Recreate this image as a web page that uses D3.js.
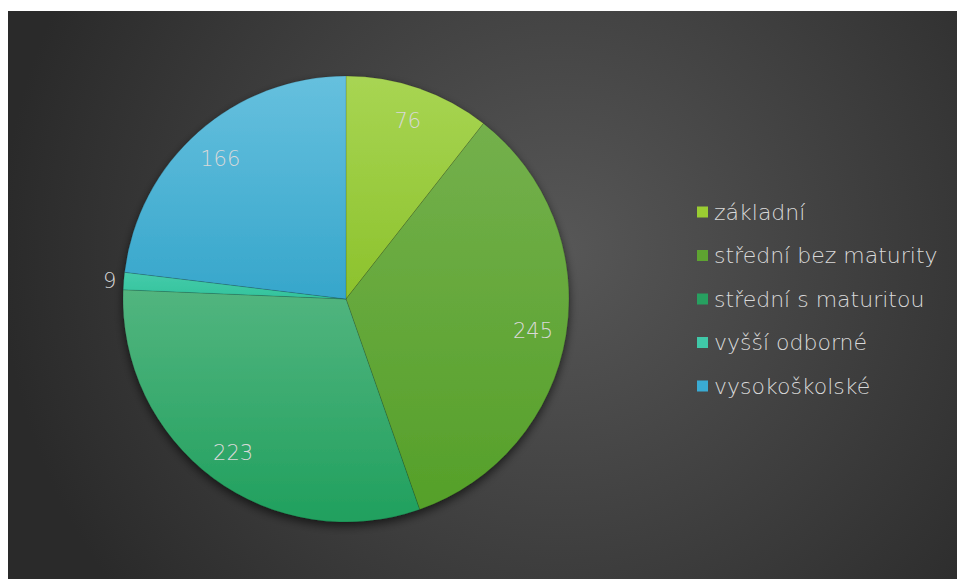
<!DOCTYPE html>
<html>
<head>
<meta charset="utf-8">
<script src="https://cdn.jsdelivr.net/npm/d3@7"></script>
<style>
  body { margin: 0; background: #fff; }
  text { font-family: "DejaVu Sans", sans-serif; fill: #d9d9d9; }
</style>
</head>
<body>
<svg width="958" height="579"></svg>
<script>
var categories = ["základní", "střední bez maturity", "střední s maturitou", "vyšší odborné", "vysokoškolské"];
var values = [76, 245, 223, 9, 166];
var topColors = ["#a8d553", "#74b04c", "#52b57f", "#45cbaa", "#66c0de"];
var bottomColors = ["#8cc22c", "#55a029", "#20a05e", "#33c39c", "#36a6cb"];
var legendColors = ["#9acd32", "#5ea331", "#27a060", "#40c8a8", "#3aabd3"];

var svg = d3.select("svg"),
    width = +svg.attr("width"),
    height = +svg.attr("height");

var defs = svg.append("defs");

var bg = defs.append("radialGradient")
    .attr("id", "bg")
    .attr("gradientUnits", "userSpaceOnUse")
    .attr("cx", 560).attr("cy", 250).attr("r", 560);
bg.append("stop").attr("offset", "0%").attr("stop-color", "#575757");
bg.append("stop").attr("offset", "100%").attr("stop-color", "#2a2a2a");

var shadow = defs.append("filter")
    .attr("id", "shadow")
    .attr("x", "-20%").attr("y", "-20%")
    .attr("width", "140%").attr("height", "140%");
shadow.append("feDropShadow")
    .attr("dx", 0).attr("dy", 4)
    .attr("stdDeviation", 5)
    .attr("flood-color", "#000")
    .attr("flood-opacity", 0.6);

categories.forEach(function (c, i) {
    var lg = defs.append("linearGradient")
        .attr("id", "slice" + i)
        .attr("x1", 0).attr("y1", 0).attr("x2", 0).attr("y2", 1);
    lg.append("stop").attr("offset", "0%").attr("stop-color", topColors[i]);
    lg.append("stop").attr("offset", "100%").attr("stop-color", bottomColors[i]);
});

svg.append("rect")
    .attr("x", 8).attr("y", 11)
    .attr("width", 949).attr("height", height - 11)
    .attr("fill", "url(#bg)");

var cx = 346, cy = 299, r = 223;

var pie = d3.pie().sort(null).value(function (d) { return d; });
var arcs = pie(values);

var arc = d3.arc().innerRadius(0).outerRadius(r);
var labelArc = d3.arc().innerRadius(r * 0.85).outerRadius(r * 0.85);
var outerArc = d3.arc().innerRadius(r + 14).outerRadius(r + 14);

var g = svg.append("g")
    .attr("transform", "translate(" + cx + "," + cy + ")");

g.append("g")
    .attr("filter", "url(#shadow)")
    .selectAll("path")
    .data(arcs)
    .enter().append("path")
    .attr("d", arc)
    .attr("fill", function (d, i) { return "url(#slice" + i + ")"; })
    .attr("stroke", "rgba(0,0,0,0.18)")
    .attr("stroke-width", 0.75);

g.selectAll("text.label")
    .data(arcs)
    .enter().append("text")
    .attr("class", "label")
    .attr("transform", function (d) {
        var small = (d.endAngle - d.startAngle) < 0.2;
        var p = small ? outerArc.centroid(d) : labelArc.centroid(d);
        return "translate(" + p + ")";
    })
    .attr("text-anchor", "middle")
    .attr("dy", "0.4em")
    .style("font-size", "21px")
    .style("font-weight", 300)
    .text(function (d) { return d.data; });

var legend = svg.append("g")
    .attr("transform", "translate(697,212)");

var row = legend.selectAll("g")
    .data(categories)
    .enter().append("g")
    .attr("transform", function (d, i) { return "translate(0," + (i * 43.5) + ")"; });

row.append("rect")
    .attr("y", -5.5)
    .attr("width", 11).attr("height", 11)
    .attr("fill", function (d, i) { return legendColors[i]; });

row.append("text")
    .attr("x", 17)
    .attr("dy", "0.35em")
    .style("font-size", "22px")
    .style("font-weight", 300)
    .text(function (d) { return d; });
</script>
</body>
</html>
